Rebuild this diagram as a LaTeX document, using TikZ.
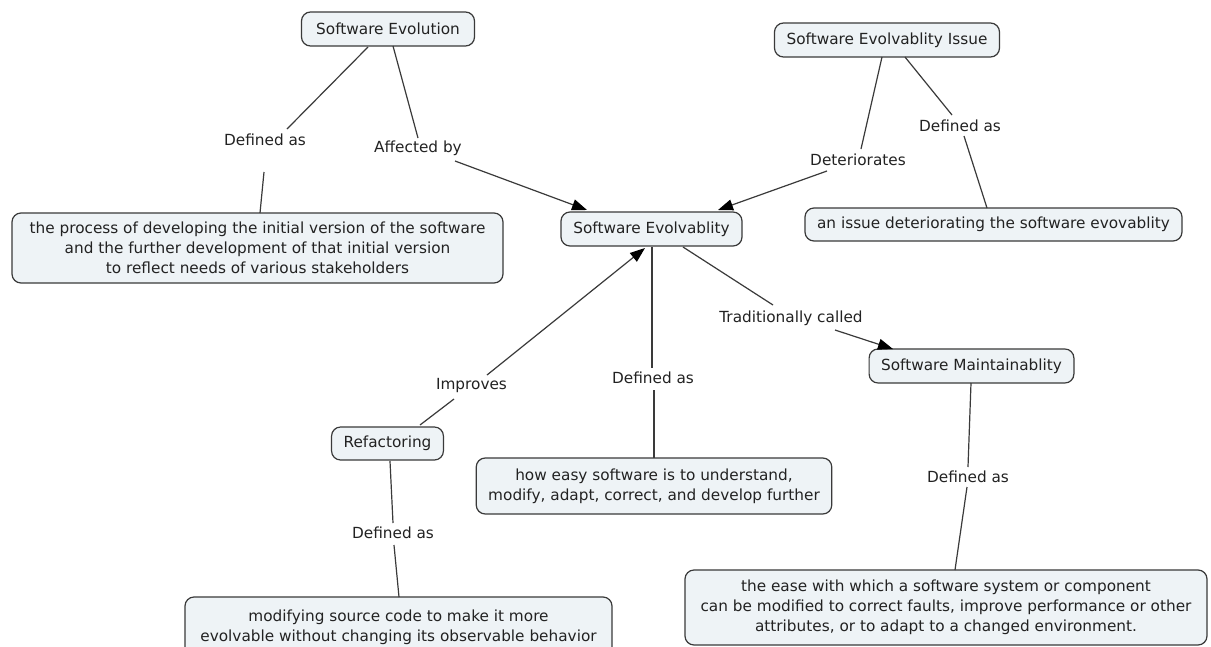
\documentclass[tikz,border=0pt]{standalone}
\usepackage{fontspec}
\setmainfont{DejaVu Sans}
\usetikzlibrary{calc,arrows.meta}
\definecolor{boxfill}{HTML}{EEF3F6}
\definecolor{boxline}{HTML}{3A3A3A}
\definecolor{txt}{HTML}{222222}
\begin{document}
\begin{tikzpicture}[x=1pt,y=-1pt,
  concept/.style={draw=boxline, fill=boxfill, rounded corners=9pt, line width=1.2pt,
    font=\fontsize{15.3}{20}\selectfont, text=txt, inner xsep=12pt, inner ysep=6pt,
    align=center, minimum height=34pt},
  lab/.style={font=\fontsize{15.3}{20}\selectfont, text=txt, inner sep=2pt},
  link/.style={draw=boxline, line width=1.2pt},
  arr/.style={link, -{Triangle[length=15pt,width=11pt,color=black]}}]
\useasboundingbox (0,0) rectangle (1211,646);
\fill[white] (0,0) rectangle (1211,646);

% concepts
\node[concept, minimum width=173pt] (sevo) at (388,29) {Software Evolution};
\node[concept, minimum width=225pt] (issue) at (887,40) {Software Evolvablity Issue};
\node[concept, minimum width=491pt, minimum height=70pt] (proc) at (257.5,248)
  {the process of developing the initial version of the software\\
   and the further development of that initial version\\
   to reflect needs of various stakeholders};
\node[concept, minimum width=181pt] (evo) at (651.5,229) {Software Evolvablity};
\node[concept, minimum width=377pt, minimum height=33pt] (anissue) at (993.5,224.5) {an issue deteriorating the software evovablity};
\node[concept, minimum width=203pt] (maint) at (971.5,366) {Software Maintainablity};
\node[concept, minimum width=111pt, minimum height=33pt] (refac) at (387.5,443.5) {Refactoring};
\node[concept, minimum height=56pt] (howeasy) at (654,486)
  {how easy software is to understand,\\ modify, adapt, correct, and develop further};
\node[concept, minimum width=427pt, minimum height=60pt] (modif) at (398.5,627)
  {modifying source code to make it more\\ evolvable without changing its observable behavior};
\node[concept, minimum width=522pt, minimum height=75pt] (ease) at (946,607.5)
  {the ease with which a software system or component\\
   can be modified to correct faults, improve performance or other\\
   attributes, or to adapt to a changed environment.};

% linking phrases
\node[lab] (l1) at (265,140) {Defined as};
\node[lab] (laff) at (418,148) {Affected by};
\node[lab] (ldet) at (858,160) {Deteriorates};
\node[lab] (l4) at (960,126) {Defined as};
\node[lab] (ltrad) at (791,318) {Traditionally called};
\node[lab] (limp) at (471.5,386) {Improves};
\node[lab] (lcen) at (653,378) {Defined as};
\node[lab] (lref) at (393,533) {Defined as};
\node[lab] (lmai) at (968,477) {Defined as};

% connectors
\draw[link] ($(sevo)+(-20,18)$) -- ($(l1)+(22,-11)$);
\draw[link] ($(l1)+(-1,32)$) -- ($(proc)+(2.5,-35)$);
\draw[link] ($(sevo)+(5,17)$) -- ($(laff)+(0,-10)$);
\draw[arr] ($(laff)+(37,13)$) -- ($(evo)+(-64.5,-19)$);
\draw[link] ($(issue)+(-5,17)$) -- ($(ldet)+(3,-11)$);
\draw[arr] ($(ldet)+(-31,11)$) -- ($(evo)+(66.5,-19)$);
\draw[link] ($(issue)+(18,17)$) -- ($(l4)+(-8,-11)$);
\draw[link] ($(l4)+(4,10)$) -- ($(anissue)+(-6.5,-16.5)$);
\draw[link] ($(evo)+(31.5,18)$) -- ($(ltrad)+(-18,-13)$);
\draw[arr] ($(ltrad)+(44,12)$) -- ($(maint)+(-78.5,-17)$);
\draw[link] ($(evo)+(0.5,18)$) -- ($(lcen)+(-1,-10)$);
\draw[link] ($(lcen)+(1,12)$) -- ($(howeasy)+(0,-28)$);
\draw[link] ($(refac)+(32.5,-18.5)$) -- ($(limp)+(-17.5,13)$);
\draw[arr] ($(limp)+(15.5,-11)$) -- ($(evo)+(-6.5,19)$);
\draw[link] ($(refac)+(2.5,17.5)$) -- ($(lref)+(0,-10)$);
\draw[link] ($(lref)+(1,12)$) -- ($(modif)+(0.5,-30)$);
\draw[link] ($(maint)+(-0.5,17)$) -- ($(lmai)+(0,-10)$);
\draw[link] ($(lmai)+(-1,10)$) -- ($(ease)+(9,-37.5)$);
\end{tikzpicture}
\end{document}
